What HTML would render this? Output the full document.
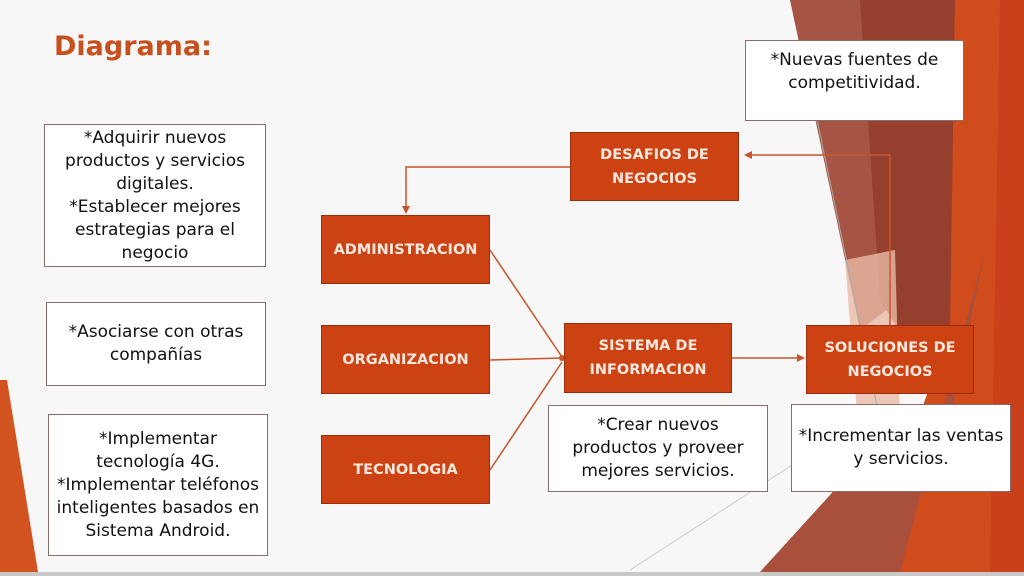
<!DOCTYPE html>
<html><head><style>
body{margin:0;width:1024px;height:576px;overflow:hidden;background:#f7f7f7;font-family:"DejaVu Sans","Liberation Sans",sans-serif;position:relative}
.w{position:absolute;background:#fff;border:1.5px solid #8a6a6a;display:flex;align-items:center;justify-content:center;text-align:center;font-size:17px;line-height:23px;color:#111;box-sizing:border-box}
.o{position:absolute;background:#cd4213;border:1.5px solid #9a2e0c;display:flex;align-items:center;justify-content:center;text-align:center;font-size:14.5px;line-height:24px;color:#fbe9df;box-sizing:border-box;font-weight:bold}
</style></head><body>
<svg width="1024" height="576" style="position:absolute;left:0;top:0">
<polygon points="0,380 7,380 38,572 0,572" fill="#d2531f"/>
<polygon points="790,0 880,0 900,300 860,330" fill="#a65443"/>
<polygon points="860,0 960,0 955,420 880,300" fill="#95402f"/>
<polygon points="955,0 1024,0 1024,572 870,572 900,470 950,330" fill="#d04c1c"/>
<polygon points="760,572 900,572 985,250 950,420 880,440" fill="#a8503c"/>
<polygon points="845,260 895,250 900,420 860,450" fill="#e9b9a6" opacity="0.8"/>
<polygon points="1000,0 1024,0 1024,572 990,572" fill="#c9401a"/>
<line x1="815" y1="110" x2="880" y2="420" stroke="#aaa" stroke-width="1"/>
<line x1="630" y1="570" x2="800" y2="460" stroke="#ccc" stroke-width="1"/>
<rect x="0" y="572" width="1024" height="4" fill="#c8c8c8"/>
<g stroke="#c9542b" stroke-width="1.5" fill="none">
<polyline points="570,167 406,167 406,208"/>
<polyline points="890,325 890,155 750,155"/>
<line x1="490" y1="250" x2="562" y2="357"/>
<line x1="490" y1="360" x2="562" y2="358"/>
<line x1="490" y1="470" x2="562" y2="362"/>
<line x1="732" y1="358" x2="798" y2="358"/>
</g>
<g fill="#c9542b">
<polygon points="402,206 410,206 406,214"/>
<polygon points="744,155 752,151 752,159"/>
<polygon points="805,358 797,354 797,362"/>
<circle cx="562" cy="358" r="3"/>
</g>
</svg>
<div style="position:absolute;left:54px;top:31px;font-size:27px;font-weight:bold;color:#c8501f">Diagrama:</div>
<div class="w" style="left:44px;top:124px;width:222px;height:143px">*Adquirir nuevos<br>productos y servicios<br>digitales.<br>*Establecer mejores<br>estrategias para el<br>negocio</div>
<div class="w" style="left:46px;top:302px;width:220px;height:84px">*Asociarse con otras<br>compañías</div>
<div class="w" style="left:48px;top:414px;width:220px;height:142px">*Implementar<br>tecnología 4G.<br>*Implementar teléfonos<br>inteligentes basados en<br>Sistema Android.</div>
<div class="w" style="left:548px;top:405px;width:220px;height:87px">*Crear nuevos<br>productos y proveer<br>mejores servicios.</div>
<div class="w" style="left:791px;top:404px;width:220px;height:88px">*Incrementar las ventas<br>y servicios.</div>
<div class="w" style="left:745px;top:40px;width:219px;height:81px;align-items:flex-start;padding-top:8px">*Nuevas fuentes de<br>competitividad.</div>
<div class="o" style="left:570px;top:132px;width:169px;height:69px">DESAFIOS DE<br>NEGOCIOS</div>
<div class="o" style="left:321px;top:215px;width:169px;height:69px">ADMINISTRACION</div>
<div class="o" style="left:321px;top:325px;width:169px;height:69px">ORGANIZACION</div>
<div class="o" style="left:321px;top:435px;width:169px;height:69px">TECNOLOGIA</div>
<div class="o" style="left:564px;top:323px;width:168px;height:70px">SISTEMA DE<br>INFORMACION</div>
<div class="o" style="left:806px;top:325px;width:168px;height:69px">SOLUCIONES DE<br>NEGOCIOS</div>
</body></html>
